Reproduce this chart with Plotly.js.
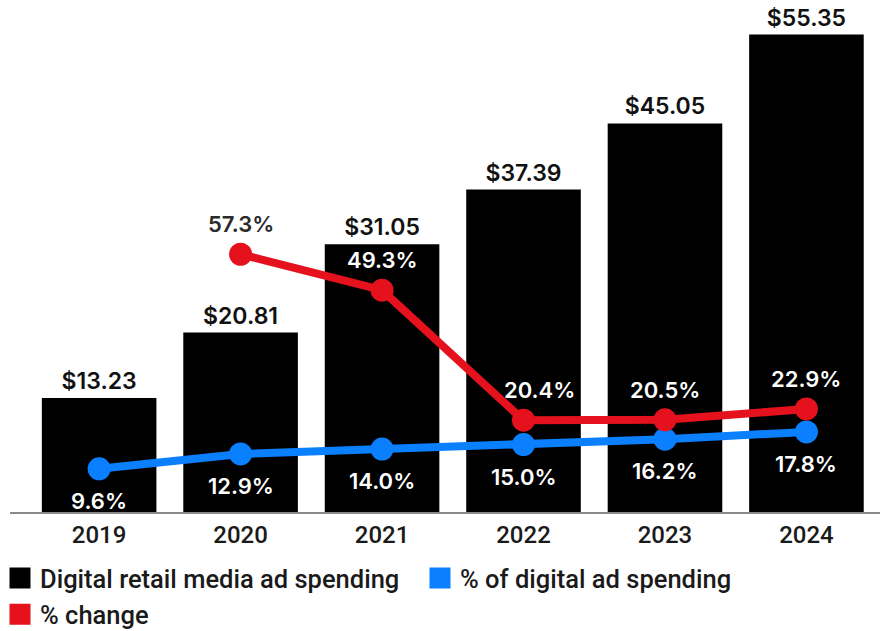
<!DOCTYPE html>
<html>
<head>
<meta charset="utf-8">
<script src="https://cdn.plot.ly/plotly-3.0.1.min.js"></script>
<style>html,body{margin:0;padding:0;background:#fff;}#chart{width:884px;height:631px;}</style>
</head>
<body>
<div id="chart"></div>
<script>
// ---- data ----
var years = ['2019', '2020', '2021', '2022', '2023', '2024'];
var spending = [13.23, 20.81, 31.05, 37.39, 45.05, 55.35];
var pctOfDigital = [9.6, 12.9, 14.0, 15.0, 16.2, 17.8];
var pctChange = [null, 57.3, 49.3, 20.4, 20.5, 22.9];
var seriesNames = ['Digital retail media ad spending', '% of digital ad spending', '% change'];

// ---- style ----
var BLACK = '#000000', BLUE = '#0A80FF', RED = '#E5121E';
var W = 884, H = 631, M = {l: 10, r: 4, t: 10, b: 119};
var plotH = H - M.t - M.b;
var Y1MAX = 58.2, Y2MAX = 111.6;
var RED_SHIFT = 30, BLUE_SHIFT = -32;
var STEEP_DROP_XSHIFT = 16; // nudge label right where the red line descends steeply into the point
var labelFont = 'Inter, "Open Sans", sans-serif';
var textFont = 'Roboto, "Noto Sans", sans-serif';

var traces = [
  {type: 'bar', x: years, y: spending, marker: {color: BLACK}, width: 0.81,
   text: spending.map(function(v){return '$' + v.toFixed(2);}),
   textposition: 'outside', cliponaxis: false,
   outsidetextfont: {family: labelFont, size: 23, color: '#111', weight: 600},
   showlegend: false, hoverinfo: 'skip'},
  {type: 'scatter', mode: 'lines+markers', x: years, y: pctOfDigital, yaxis: 'y2',
   line: {color: BLUE, width: 8}, marker: {color: BLUE, size: 23},
   showlegend: false, cliponaxis: false, hoverinfo: 'skip'},
  {type: 'scatter', mode: 'lines+markers', x: years, y: pctChange, yaxis: 'y2',
   line: {color: RED, width: 8}, marker: {color: RED, size: 23},
   showlegend: false, cliponaxis: false, hoverinfo: 'skip', connectgaps: false}
];
// legend-only entries (square swatches)
[BLACK, BLUE, RED].forEach(function(c, i){
  traces.push({type: 'scatter', mode: 'markers', x: [null], y: [null], name: seriesNames[i],
    marker: {symbol: 'square', color: c, size: 16, line: {color: c, width: 5}},
    hoverinfo: 'skip', legendrank: i + 1});
});

function labelColor(i, pct, shift){
  var px = pct / Y2MAX * plotH + shift;
  var inBar = px / plotH * Y1MAX;
  return inBar < spending[i] - 0.5 ? '#ffffff' : '#2a2a2a';
}

var annotations = [];
pctChange.forEach(function(v, i){
  if (v === null) return;
  var prev = pctChange[i - 1];
  var steep = prev !== null && prev !== undefined && prev - v > 20;
  annotations.push({x: i, y: v, xref: 'x', yref: 'y2', yshift: RED_SHIFT,
    xshift: steep ? STEEP_DROP_XSHIFT : 0,
    text: v.toFixed(1) + '%', showarrow: false,
    font: {family: labelFont, size: 22, color: labelColor(i, v, RED_SHIFT), weight: 600}});
});
pctOfDigital.forEach(function(v, i){
  annotations.push({x: i, y: v, xref: 'x', yref: 'y2', yshift: BLUE_SHIFT,
    text: v.toFixed(1) + '%', showarrow: false,
    font: {family: labelFont, size: 22, color: labelColor(i, v, BLUE_SHIFT), weight: 600}});
});

var layout = {
  width: W, height: H, margin: M,
  paper_bgcolor: '#fff', plot_bgcolor: '#fff',
  xaxis: {type: 'category', range: [-0.63, 5.52], showline: true, linecolor: '#8a8a8a', linewidth: 2,
          ticks: '', showgrid: false, zeroline: false, ticklabelstandoff: 0,
          tickfont: {family: textFont, size: 24, color: '#1a1a1a', weight: 500}, fixedrange: true},
  yaxis: {range: [0, Y1MAX], visible: false, showgrid: false, zeroline: false, fixedrange: true},
  yaxis2: {range: [0, Y2MAX], overlaying: 'y', visible: false, showgrid: false, zeroline: false, fixedrange: true},
  showlegend: true,
  legend: {orientation: 'h', xref: 'container', yref: 'container', x: 0, xanchor: 'left',
           y: 1 - 555 / H, yanchor: 'top', entrywidth: 375, entrywidthmode: 'pixels',
           font: {family: textFont, size: 25.5, color: '#1a1a1a', weight: 500},
           itemclick: false, itemdoubleclick: false},
  annotations: annotations
};

Plotly.newPlot('chart', traces, layout, {displayModeBar: false, staticPlot: true});
</script>
</body>
</html>
